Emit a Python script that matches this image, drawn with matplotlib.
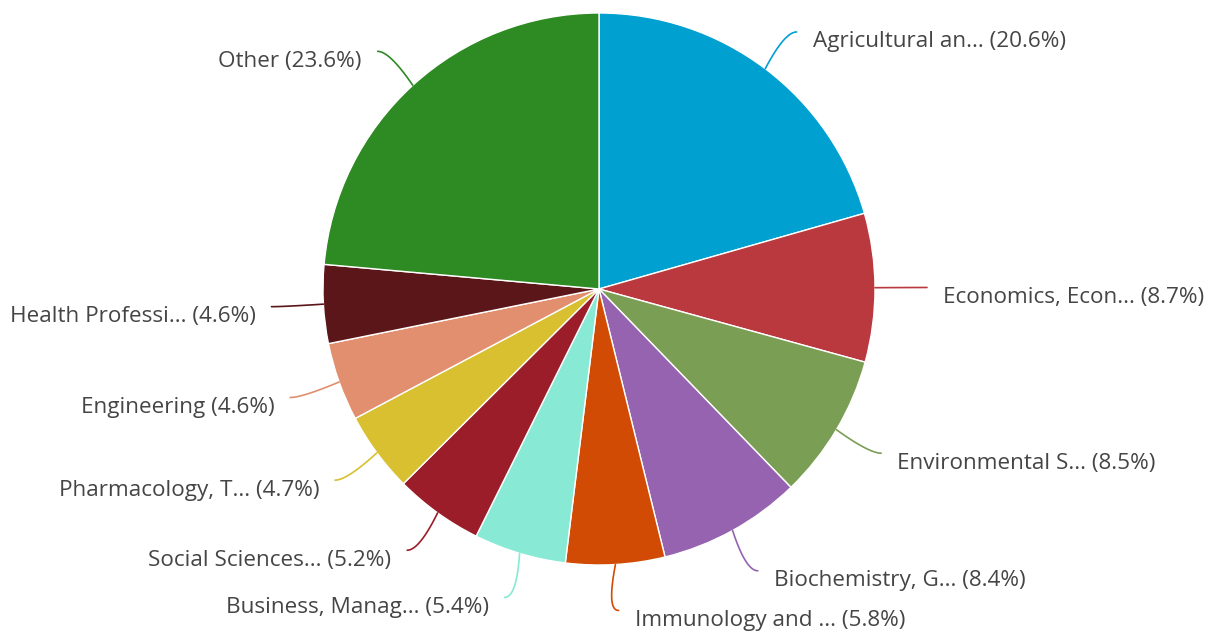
import numpy as np
import matplotlib.pyplot as plt

labels = ['Agricultural an...', 'Economics, Econ...', 'Environmental S...', 'Biochemistry, G...',
          'Immunology and ...', 'Business, Manag...', 'Social Sciences...', 'Pharmacology, T...',
          'Engineering', 'Health Professi...', 'Other']
values = [20.6, 8.7, 8.5, 8.4, 5.8, 5.4, 5.2, 4.7, 4.6, 4.6, 23.6]
colors = ['#00A0D1', '#B9393F', '#7B9E55', '#9563B0', '#D24B05', '#88E9D5',
          '#9B1D29', '#D8C030', '#E28F6F', '#5B1619', '#2E8A22']

W, H = 1214, 633
fig = plt.figure(figsize=(W / 100, H / 100), dpi=100)
ax = fig.add_axes([0, 0, 1, 1])

cx, cy, r = 599, H - 289, 276
wedges, _ = ax.pie(values, colors=colors, startangle=90, counterclock=False,
                   center=(cx, cy), radius=r, frame=True,
                   wedgeprops=dict(edgecolor='white', linewidth=1))
ax.set_xlim(0, W)
ax.set_ylim(0, H)
ax.set_aspect('equal')
ax.axis('off')

for w, lab, v, c in zip(wedges, labels, values, colors):
    ang = np.deg2rad((w.theta1 + w.theta2) / 2)
    p0 = np.array([cx + r * np.cos(ang), cy + r * np.sin(ang)])
    # label anchor: a bit further out sideways than up/down
    p2 = np.array([cx + (r + 52) * np.cos(ang), cy + (r + 46) * np.sin(ang)])
    side = 1 if np.cos(ang) >= 0 else -1
    ctrl = np.array([p2[0] - side * 12, p2[1]])
    t = np.linspace(0, 1, 30)[:, None]
    pts = (1 - t) ** 2 * p0 + 2 * (1 - t) * t * ctrl + t ** 2 * p2
    ax.plot(pts[:, 0], pts[:, 1], color=c, lw=1.2, solid_capstyle='round')
    ax.text(p2[0] + side * 16, p2[1] - 15.5, '%s (%.1f%%)' % (lab, v),
            ha='left' if side > 0 else 'right', va='baseline',
            fontsize=16.2, family='Open Sans', color='#454545')

fig.savefig('out.png', dpi=100)
